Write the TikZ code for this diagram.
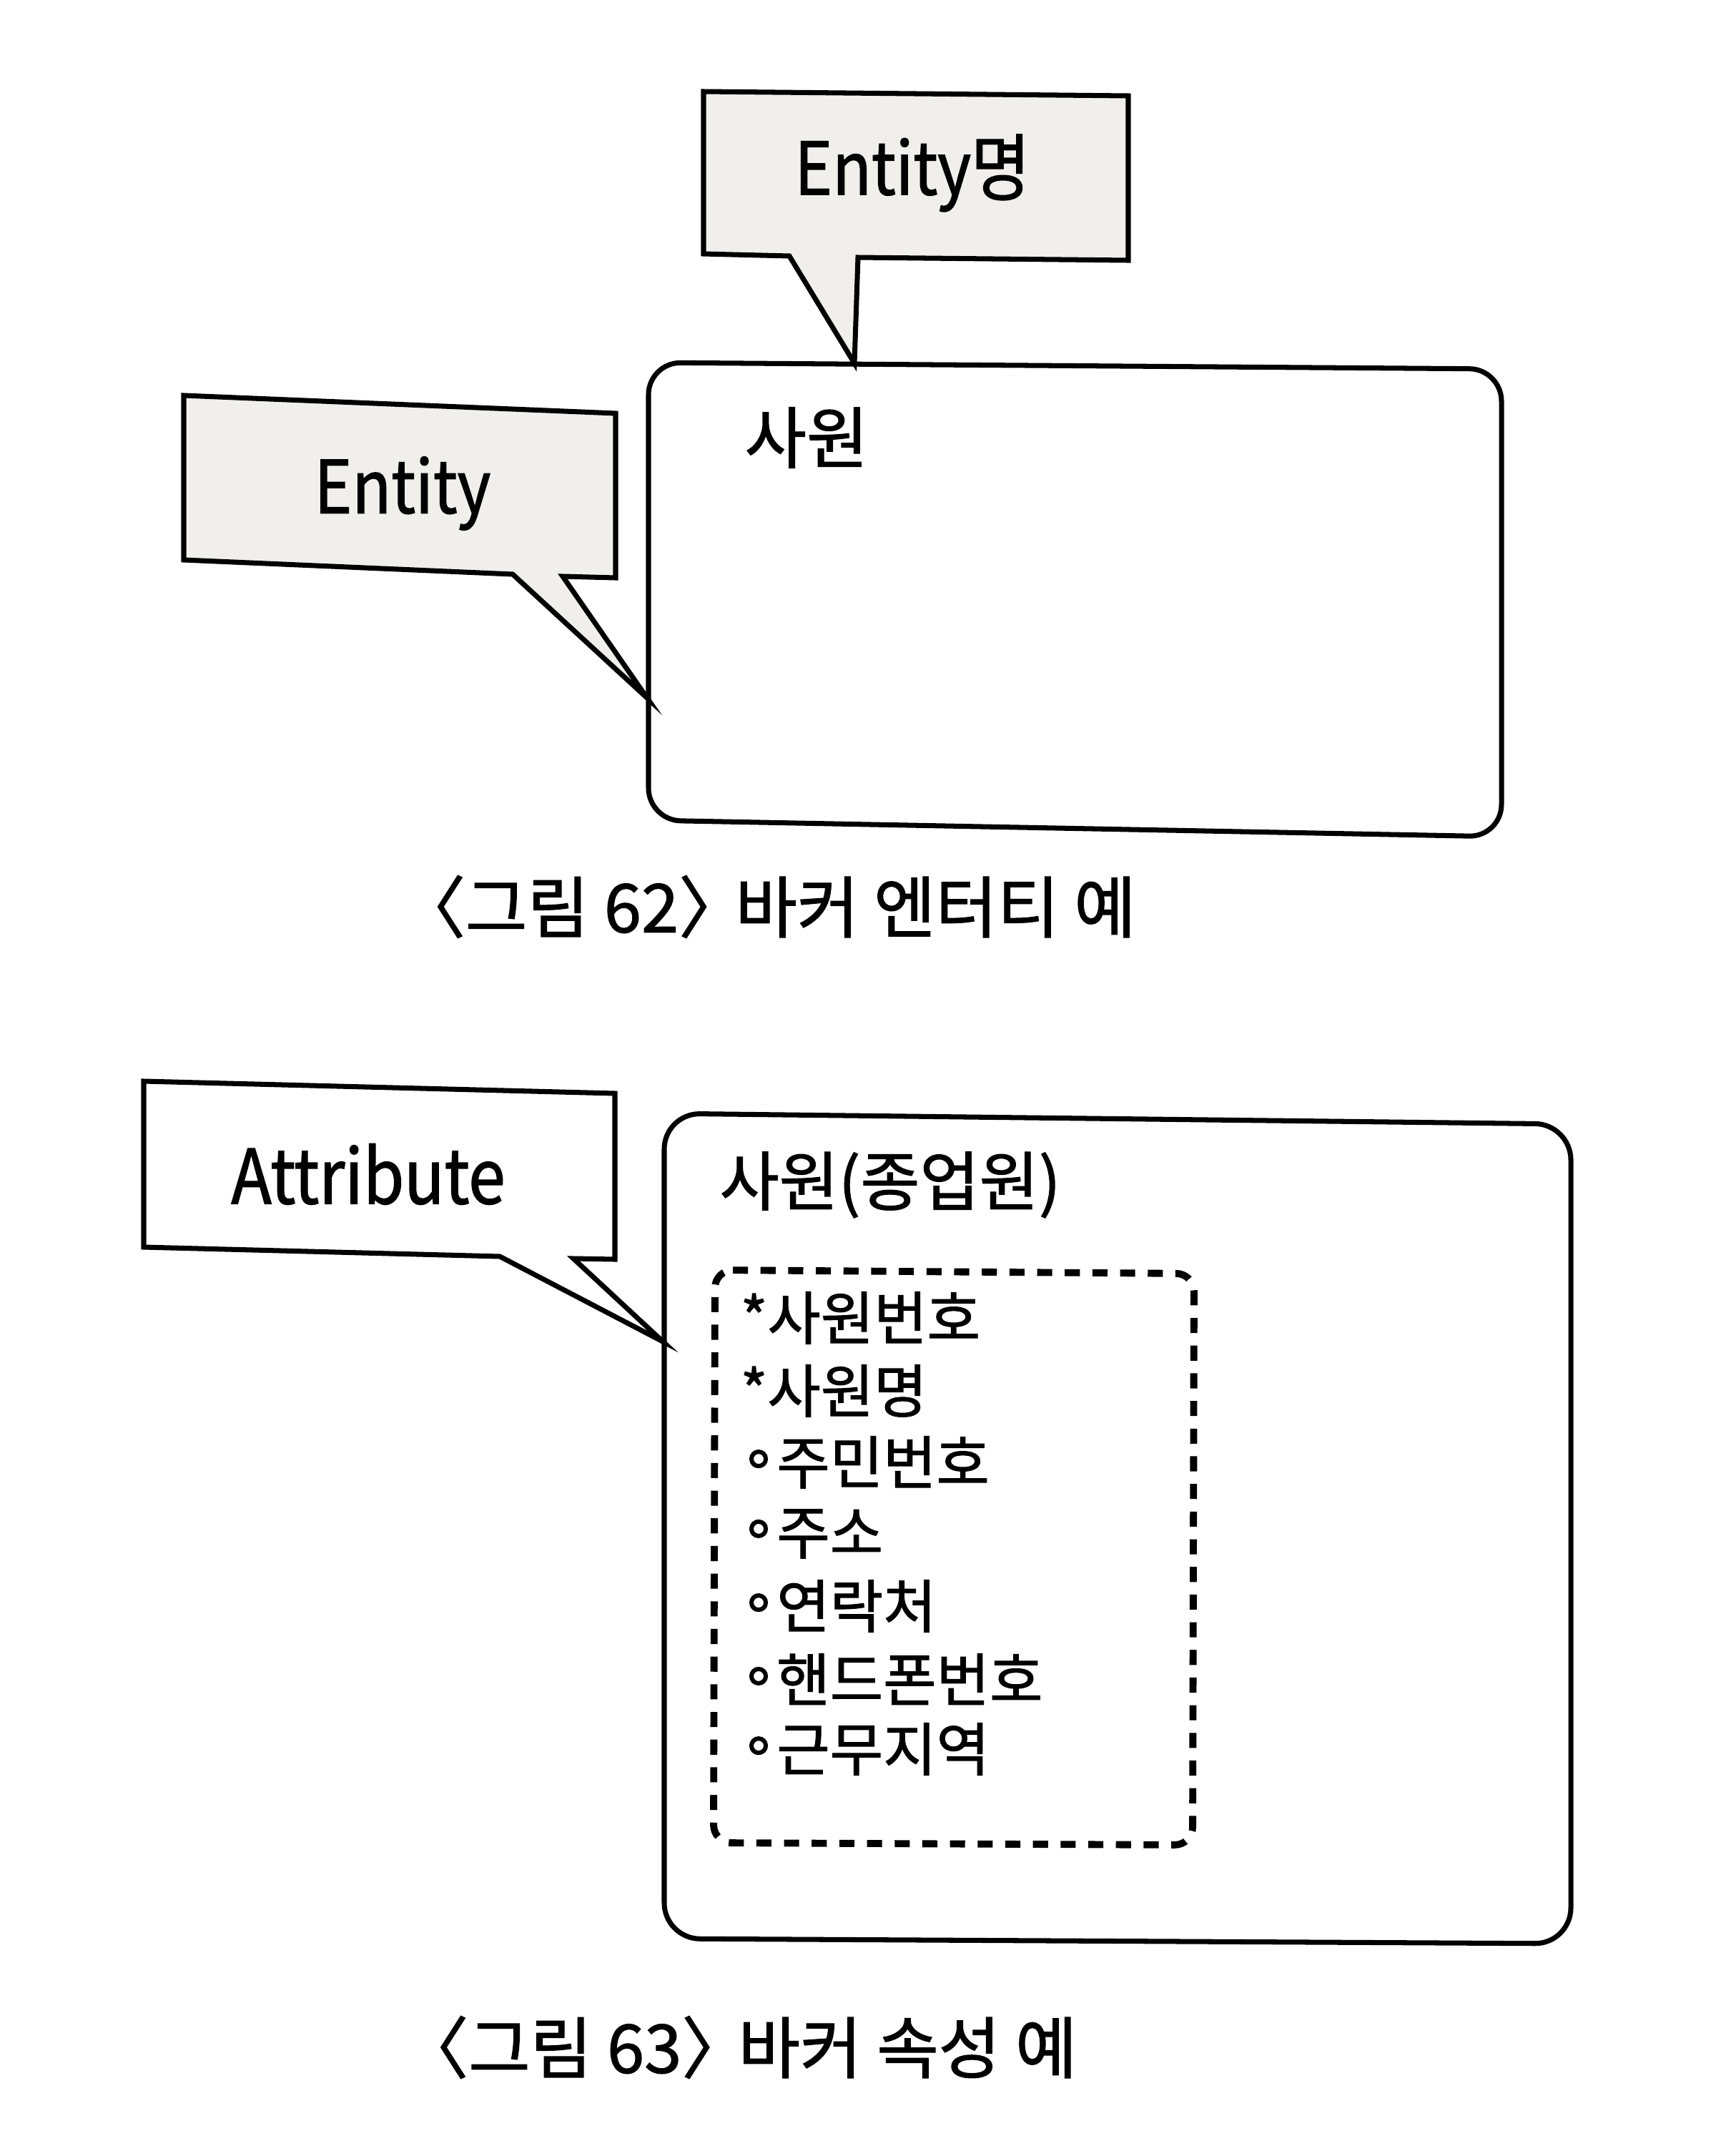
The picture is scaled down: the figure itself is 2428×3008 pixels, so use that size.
\documentclass[tikz,border=0pt]{standalone}
\usepackage{fontspec}
\setmainfont{Noto Sans CJK KR}[FakeBold=1.3]
\newfontfamily\narrowfont{Noto Sans CJK KR}[FakeBold=1.3, FakeStretch=0.88]
\newfontfamily\dejavu{DejaVu Sans}[FakeBold=1.3]
\definecolor{notefill}{RGB}{241,239,235}
\newcommand{\fs}[1]{\fontsize{#1}{1.2\dimexpr#1\relax}\selectfont}
\newcommand{\bul}{{\dejavu\raisebox{0.12em}{∘}}}
\newcommand{\closebr}{〉\kern-0.38em\ }
\begin{document}
\begin{tikzpicture}[x=0.01cm,y=-0.01cm]
\tikzset{
  outline/.style={draw=black, line width=2pt, line join=miter},
  note/.style={outline, fill=notefill},
  plainnote/.style={outline, fill=white},
  entbox/.style={draw=black, line width=2pt, rounded corners=0.45cm},
  attrgroup/.style={draw=black, line width=2.8pt, rounded corners=0.25cm, dash pattern=on 6pt off 5pt},
  txt/.style={inner sep=0pt, text=black},
}
\useasboundingbox (0,0) rectangle (2428,3008);
\fill[white] (0,0) rectangle (2428,3008);

% ---------- figure 62 ----------
\draw[entbox] (907,507) -- (2100,516) -- (2100,1170) -- (907,1147) -- cycle;
\node[txt, font=\fs{26.7pt}] (sawon) at (1128,612) {사원};

\draw[note] (984,128) -- (1578,134) -- (1578,364) -- (1200,360) -- (1195,508) -- (1104,358) -- (984,355) -- cycle;
\node[txt, font=\narrowfont\fs{29pt}] (entname) at (1276,242) {Entity명};

\draw[note] (257,553) -- (861,578) -- (861,808) -- (787,806) -- (905,976) -- (717,803) -- (257,783) -- cycle;
\node[txt, font=\narrowfont\fs{29pt}] (entity) at (563,690) {Entity};

\node[txt, font=\fs{26.7pt}] (cap62) at (1073,1268) {〈그림 62\closebr 바커 엔터티 예};

% ---------- figure 63 ----------
\draw[entbox, rounded corners=0.5cm] (929,1557) -- (2197,1572) -- (2197,2718) -- (929,2711) -- cycle;
\node[txt, font=\fs{25.7pt}] (sawon2) at (1245,1657) {사원(종업원)};

\draw[attrgroup] (1000,1776) -- (1670,1781) -- (1668,2580) -- (998,2577) -- cycle;

\draw[plainnote] (201,1512) -- (860,1529) -- (860,1761) -- (802,1760) -- (927,1876) -- (699,1757) -- (201,1744) -- cycle;
\node[txt, font=\narrowfont\fs{30pt}] (attr) at (515,1642) {Attribute};

\begin{scope}[every node/.style={txt, anchor=west, font=\fs{23pt}}]
\node (a1) at (1035,1843) {*사원번호};
\node (a2) at (1035,1945) {*사원명};
\node (a3) at (1035,2045) {\bul{}주민번호};
\node (a4) at (1035,2145) {\bul{}주소};
\node (a5) at (1035,2246) {\bul{}연락처};
\node (a6) at (1035,2348) {\bul{}핸드폰번호};
\node (a7) at (1035,2446) {\bul{}근무지역};
\end{scope}

\node[txt, font=\fs{26.7pt}] (cap63) at (1034,2863) {〈그림 63\closebr 바커 속성 예};
\end{tikzpicture}
\end{document}
